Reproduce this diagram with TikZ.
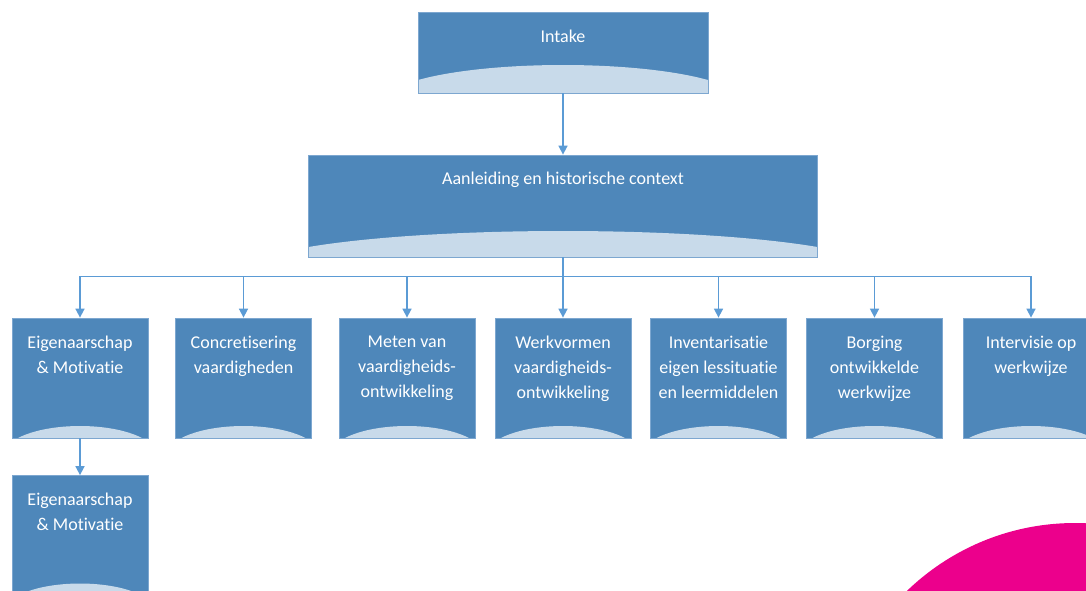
\documentclass[tikz,border=0pt]{standalone}
\usepackage{fontspec}
\setmainfont{Carlito}[Ligatures=NoCommon,RawFeature=-liga]
\usetikzlibrary{arrows.meta,calc}
\definecolor{boxblue}{HTML}{4E87BA}
\definecolor{lightfill}{HTML}{C8DAEA}
\definecolor{linecol}{HTML}{5B9BD5}
\definecolor{edgecol}{HTML}{7DA7D0}
\definecolor{pink}{HTML}{EC008C}
\tikzset{
  box/.style={rectangle, inner sep=0pt, fill=boxblue, draw=edgecol, line width=0.8pt},
  wave/.style n args={3}{path picture={
    \fill[lightfill] let \p1=(path picture bounding box.south west), \p2=(path picture bounding box.north east) in
      (\x1+#1pt,\y1) -- (\x1+#1pt,\y1+#2pt)
      .. controls ({\x1+#1pt+(\x2-\x1-2*#1pt)/4},{\y1+#2pt+4*#3pt/3}) and ({\x2-#1pt-(\x2-\x1-2*#1pt)/4},{\y1+#2pt+4*#3pt/3}) ..
      (\x2-#1pt,\y1+#2pt) -- (\x2-#1pt,\y1) -- cycle;
  }},
  smallbox/.style={box, wave={6}{0}{12}, minimum width=136pt, minimum height=120pt},
  lbl/.style={text=white, inner sep=0pt, anchor=north, align=center, font=\fontsize{18}{25}\selectfont,
    execute at begin node={\rule{0pt}{15pt}}},
  conn/.style={draw=linecol, line width=1.6pt, -{Triangle[width=9pt,length=9pt]}},
  connline/.style={draw=linecol, line width=1.6pt}
}
\begin{document}
\begin{tikzpicture}[x=1pt,y=-1pt]
\clip (0,0) rectangle (1086,590);
\fill[white] (0,0) rectangle (1086,590);
% magenta circle
\fill[pink] (1075,765) circle[radius=242pt];
% boxes
\node[box, wave={0}{13}{15}, minimum width=290pt, minimum height=81pt] (intake) at (563,52.5) {};
\node[box, wave={0}{10}{16}, minimum width=509pt, minimum height=102pt] (aan) at (563,206) {};
\node[smallbox] (b1) at (80,378) {};
\node[smallbox] (b2) at (243.5,378) {};
\node[smallbox] (b3) at (407,378) {};
\node[smallbox] (b4) at (563,378) {};
\node[smallbox] (b5) at (718.5,378) {};
\node[smallbox] (b6) at (874.5,378) {};
\node[smallbox] (b7) at (1031,378) {};
\node[smallbox] (b8) at (80,535.5) {};
% labels
\node[lbl] (t0) at (563,27) {Intake};
\node[lbl] (ta) at (563,169) {Aanleiding en historische context};
\node[lbl] (t1) at (80,335.5) {Eigenaarschap\\\& Motivatie};
\node[lbl] (t2) at (243.5,335.5) {Concretisering\\vaardigheden};
\node[lbl] (t3) at (407,335.5) {Meten van\\vaardigheids-\\ontwikkeling};
\node[lbl] (t4) at (563,335.5) {Werkvormen\\vaardigheids-\\ontwikkeling};
\node[lbl] (t5) at (718.5,335.5) {Inventarisatie\\eigen lessituatie\\en leermiddelen};
\node[lbl] (t6) at (874.5,335.5) {Borging\\ontwikkelde\\werkwijze};
\node[lbl] (t7) at (1031,335.5) {Intervisie op\\werkwijze};
\node[lbl] (t8) at (80,492.5) {Eigenaarschap\\\& Motivatie};
% connectors
\draw[conn] (intake.south) -- (aan.north);
\coordinate (bus) at ($(aan.south)+(0,19)$);
\draw[connline] (aan.south) -- (bus);
\draw[connline] (bus -| b1.north) -- (bus -| b7.north);
\foreach \b in {b1,b2,b3,b4,b5,b6,b7}{
  \draw[conn] (bus -| \b.north) -- (\b.north);
}
\draw[conn] (b1.south) -- (b8.north);
\end{tikzpicture}
\end{document}
